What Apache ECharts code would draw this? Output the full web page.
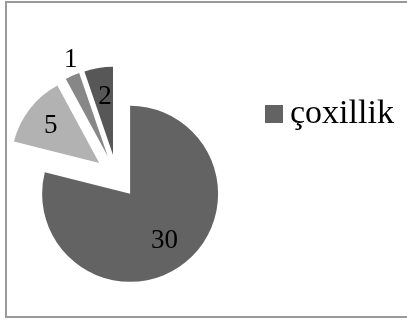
<!DOCTYPE html>
<html>
<head>
<meta charset="utf-8">
<script src="https://cdn.jsdelivr.net/npm/echarts@6/dist/echarts.min.js"></script>
<style>
  html, body { margin: 0; padding: 0; background: #fff; }
  #chart { width: 407px; height: 324px; }
</style>
</head>
<body>
<div id="chart"></div>
<script>
  // data
  const seriesName = 'çoxillik';
  const sliceNames = ['a', 'b', 'c', 'd'];
  const sliceValues = [30, 5, 1, 2];
  const sliceColors = ['#636363', '#b2b2b2', '#878787', '#575757'];

  // label placement: distance from slice centre (share of radius) + small nudge
  const labelRadius = [0.64, 0.72, 1.18, 0.66];
  const labelNudge = [[-2, 0], [4, 4], [6, 1], [2, 2]];
  const R = 88;
  const serif = '"Liberation Serif", "Times New Roman", serif';

  const total = sliceValues.reduce((a, b) => a + b, 0);
  const cum = [];
  let run = 0;
  sliceValues.forEach(v => { cum.push(run); run += v; });

  const chart = echarts.init(document.getElementById('chart'));
  chart.setOption({
    animation: false,
    backgroundColor: '#fff',
    graphic: [{
      type: 'rect',
      shape: { x: 6, y: 2, width: 420, height: 315 },
      style: { fill: 'none', stroke: '#9a9a9a', lineWidth: 2 },
      silent: true
    }],
    legend: {
      data: [{ name: seriesName, itemStyle: { color: '#636363' } }],
      left: 265,
      top: 97,
      padding: 0,
      icon: 'rect',
      itemWidth: 18,
      itemHeight: 18,
      itemGap: 0,
      textStyle: { fontFamily: serif, fontSize: 34, color: '#000', padding: [0, 0, 0, 2] }
    },
    series: [{
      name: seriesName,
      type: 'pie',
      center: [116.6, 176.5],
      radius: R,
      startAngle: 90,
      clockwise: true,
      selectedMode: 'multiple',
      selectedOffset: 22,
      emphasis: { disabled: true },
      label: {
        show: true,
        position: 'inside',
        formatter: '{c}',
        fontFamily: serif,
        fontSize: 27,
        color: '#000'
      },
      labelLine: { show: false },
      labelLayout: function (p) {
        const i = p.dataIndex;
        const mid = (cum[i] + sliceValues[i] / 2) / total * 2 * Math.PI;
        const extra = (labelRadius[i] - 0.5) * R;
        return {
          dx: Math.sin(mid) * extra + labelNudge[i][0],
          dy: -Math.cos(mid) * extra + labelNudge[i][1]
        };
      },
      data: sliceValues.map((v, i) => ({
        name: sliceNames[i],
        value: v,
        selected: true,
        itemStyle: { color: sliceColors[i] }
      }))
    }]
  });
</script>
</body>
</html>
